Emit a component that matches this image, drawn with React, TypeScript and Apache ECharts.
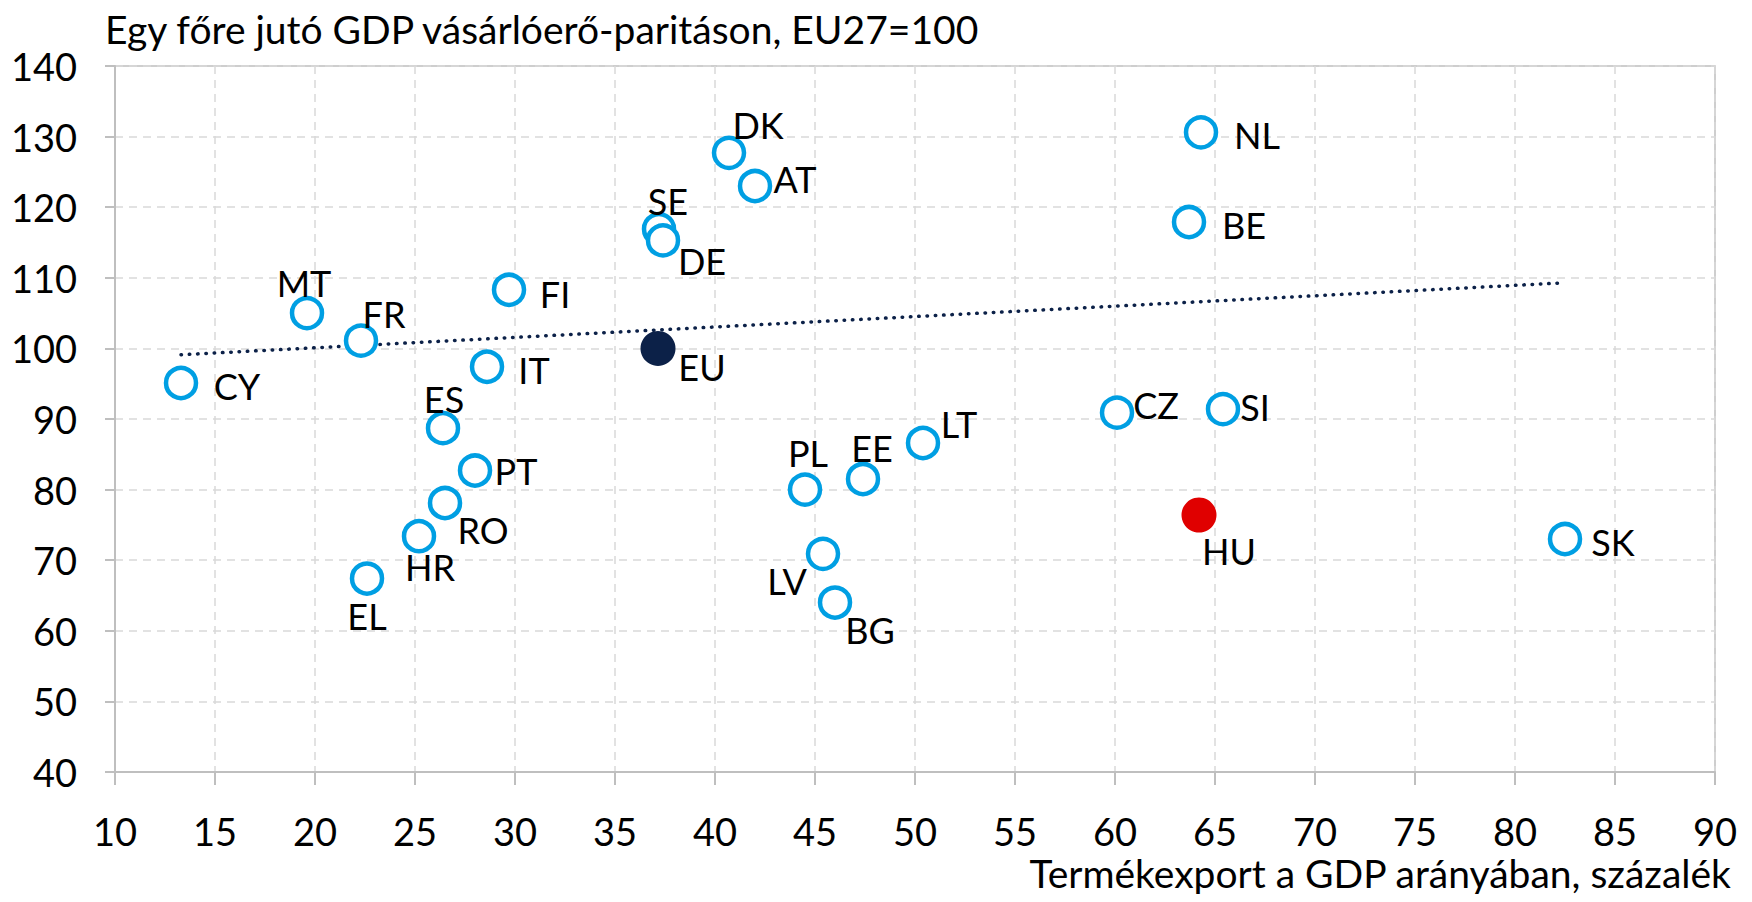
import React, { useEffect, useRef } from "react";
import * as echarts from "echarts";

const countries = ["CY", "MT", "FR", "FI", "IT", "ES", "PT", "RO", "HR", "EL", "SE", "DE", "DK", "AT", "PL", "LV", "BG", "EE", "LT", "CZ", "SI", "NL", "BE", "SK"];
const exportShare = [13.3, 19.6, 22.3, 29.7, 28.6, 26.4, 28.0, 26.5, 25.2, 22.6, 37.2, 37.4, 40.7, 42.0, 44.5, 45.4, 46.0, 47.4, 50.4, 60.1, 65.4, 64.3, 63.7, 82.5];
const gdpPpp = [95.1, 105.0, 101.1, 108.3, 97.4, 88.7, 82.7, 78.1, 73.4, 67.4, 116.9, 115.3, 127.7, 123.0, 80.0, 70.9, 64.0, 81.5, 86.6, 90.9, 91.4, 130.6, 117.9, 73.0];

const euPoint = { name: "EU", x: 37.15, y: 100.0 };
const huPoint = { name: "HU", x: 64.2, y: 76.4 };

const trendX = [13.3, 82.5];
const trendY = [99.1, 109.3];

const xTicks = { min: 10, max: 90, interval: 5 };
const yTicks = { min: 40, max: 140, interval: 10 };

// label offsets (layout only), in pixels from the marker centre
const labelOffset: Record<string, [number, number]> = {
  CY: [56, 3], MT: [-3, -30], FR: [23, -27], FI: [46, 4], IT: [47, 3], ES: [1, -29],
  PT: [41, 0], RO: [38, 27], HR: [11, 31], EL: [0, 37], EU: [44, 19], SE: [9, -28],
  DE: [39, 21], DK: [29, -28], AT: [40, -7], PL: [3, -37], LV: [-36, 27], BG: [35, 27],
  EE: [9, -31], LT: [36, -19], CZ: [39, -8], SI: [32, -2], HU: [30, 36], NL: [56, 3],
  BE: [55, 3], SK: [48, 3],
};

const FONT = "Lato";

export default function App() {
  const ref = useRef<HTMLDivElement>(null);
  useEffect(() => {
    if (!ref.current) return;
    const chart = echarts.init(ref.current, null, { renderer: "svg" });
    const labelFor = (name: string) => ({
      show: true,
      position: "inside",
      offset: labelOffset[name],
      formatter: "{b}",
      color: "#000",
      fontSize: 36,
      fontFamily: FONT,
    });
    chart.setOption({
      animation: false,
      backgroundColor: "#fff",
      grid: { left: 115, right: 37, top: 66, bottom: 130, show: true, borderColor: "#BFBFBF", borderWidth: 1.5 },
      graphic: [
        {
          type: "text",
          left: 105,
          top: 9,
          style: { text: "Egy főre jutó GDP vásárlóerő-paritáson, EU27=100", fontSize: 39, fontFamily: FONT, fill: "#000" },
        },
        {
          type: "text",
          right: 20,
          top: 853,
          style: { text: "Termékexport a GDP arányában, százalék", fontSize: 39, fontFamily: FONT, fill: "#000" },
        },
      ],
      xAxis: {
        type: "value",
        min: xTicks.min,
        max: xTicks.max,
        interval: xTicks.interval,
        axisLine: { show: true, lineStyle: { color: "#BFBFBF", width: 2 } },
        axisTick: { show: true, length: 13, lineStyle: { color: "#BFBFBF", width: 2 } },
        axisLabel: { fontSize: 38, fontFamily: FONT, color: "#000", margin: 40 },
        splitLine: { show: true, lineStyle: { color: "#D9D9D9", width: 1.5, type: [8, 6] } },
      },
      yAxis: {
        type: "value",
        min: yTicks.min,
        max: yTicks.max,
        interval: yTicks.interval,
        axisLine: { show: true, lineStyle: { color: "#BFBFBF", width: 2 } },
        axisTick: { show: true, length: 10, lineStyle: { color: "#BFBFBF", width: 2 } },
        axisLabel: { fontSize: 38, fontFamily: FONT, color: "#000", margin: 38 },
        splitLine: { show: true, lineStyle: { color: "#D9D9D9", width: 1.5, type: [8, 6] } },
      },
      series: [
        {
          type: "line",
          data: trendX.map((x, i) => [x, trendY[i]]),
          symbol: "none",
          silent: true,
          z: 1,
          lineStyle: { color: "#0C2148", width: 3.5, type: [0.5, 7.8], cap: "round" },
        },
        {
          type: "scatter",
          z: 3,
          symbol: "circle",
          symbolSize: 30,
          itemStyle: { color: "#fff", borderColor: "#009FE3", borderWidth: 4.5, opacity: 1 },
          data: countries.map((c, i) => ({ name: c, value: [exportShare[i], gdpPpp[i]], label: labelFor(c) })),
        },
        {
          type: "scatter",
          z: 3,
          symbol: "circle",
          symbolSize: 35,
          itemStyle: { opacity: 1 },
          data: [
            { name: euPoint.name, value: [euPoint.x, euPoint.y], itemStyle: { color: "#0C2148", opacity: 1 }, label: labelFor(euPoint.name) },
            { name: huPoint.name, value: [huPoint.x, huPoint.y], itemStyle: { color: "#E00000", opacity: 1 }, label: labelFor(huPoint.name) },
          ],
        },
      ],
    });
    return () => chart.dispose();
  }, []);
  return <div ref={ref} style={{ width: 1752, height: 902, margin: -8 }} />;
}
